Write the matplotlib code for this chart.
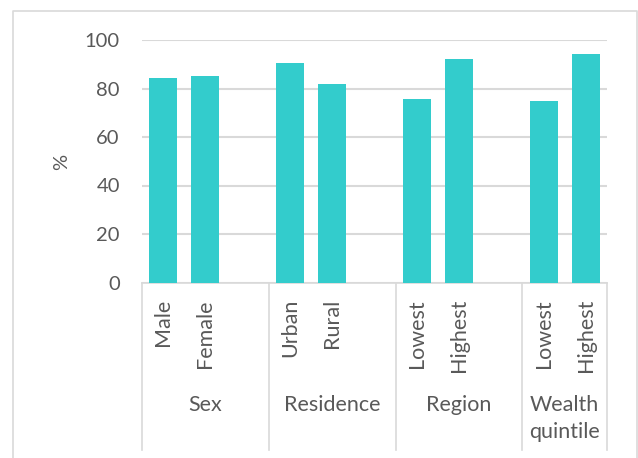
import matplotlib
matplotlib.use("Agg")
import matplotlib.pyplot as plt
from matplotlib.lines import Line2D
from matplotlib.transforms import blended_transform_factory

# data
groups = ['Sex', 'Residence', 'Region', 'Wealth\nquintile']
labels = [['Male', 'Female'], ['Urban', 'Rural'],
          ['Lowest', 'Highest'], ['Lowest', 'Highest']]
values = [[84.2, 85.3], [90.4, 82.0], [75.5, 92.2], [74.7, 94.3]]
yticks = [0, 20, 40, 60, 80, 100]

W, H = 638, 458
BAR = '#33CCCC'
GRID = '#D9D9D9'
TXT = '#595959'
FS = 14.5
FS_LAB = 15.5

plt.rcParams['font.family'] = ['Lato', 'DejaVu Sans']

fig = plt.figure(figsize=(W / 100, H / 100), dpi=100)
ax = fig.add_axes([142 / W, 1 - 282.5 / H, (607 - 142) / W, (282.5 - 40) / H])

# lay out slots: two bars per group plus one blank slot between groups
xs, vs, names, group_mid, seps = [], [], [], [], [-0.5]
slot = 0
for gi, (labs, vals) in enumerate(zip(labels, values)):
    start = slot
    for lab, v in zip(labs, vals):
        xs.append(slot)
        vs.append(v)
        names.append(lab)
        slot += 1
    if gi < len(groups) - 1:
        slot += 1
    end = slot
    seps.append(end - 0.5)
    group_mid.append((start + end - 1) / 2)

ax.bar(xs, vs, width=0.66, color=BAR, zorder=3)
ax.set_xlim(-0.5, slot - 0.5)
ax.set_ylim(0, 100)
ax.set_yticks(yticks)
ax.yaxis.grid(True, color=GRID, lw=1.5)
ax.set_axisbelow(True)
ax.set_xticks([])
ax.tick_params(axis='y', length=0, pad=16, labelsize=FS, labelcolor=TXT)
for s in ['top', 'right', 'left']:
    ax.spines[s].set_visible(False)
ax.spines['bottom'].set_color(GRID)
ax.spines['bottom'].set_linewidth(1.2)

tr = blended_transform_factory(ax.transData, fig.transFigure)


def fy(px):
    return 1 - px / H


for x, n in zip(xs, names):
    fig.text(x, fy(299), n, transform=tr, rotation=90, ha='center',
             va='top', fontsize=FS_LAB, color=TXT)

for x, g in zip(group_mid, groups):
    fig.text(x, fy(395), g, transform=tr, ha='center', va='top',
             fontsize=FS_LAB, color=TXT, linespacing=1.45)

for x in seps:
    fig.add_artist(Line2D([x, x], [fy(283), fy(450)], transform=tr,
                          color=GRID, lw=1.2))

fig.text(62 / W, fy(161.5), '%', rotation=90, ha='center', va='center',
         fontsize=FS, color=TXT)

# chart area border
fig.add_artist(Line2D([12.5 / W, 12.5 / W, 637 / W, 637 / W],
                      [0, fy(11), fy(11), 0], transform=fig.transFigure,
                      color=GRID, lw=1.2))

fig.savefig('out.png', dpi=100)
